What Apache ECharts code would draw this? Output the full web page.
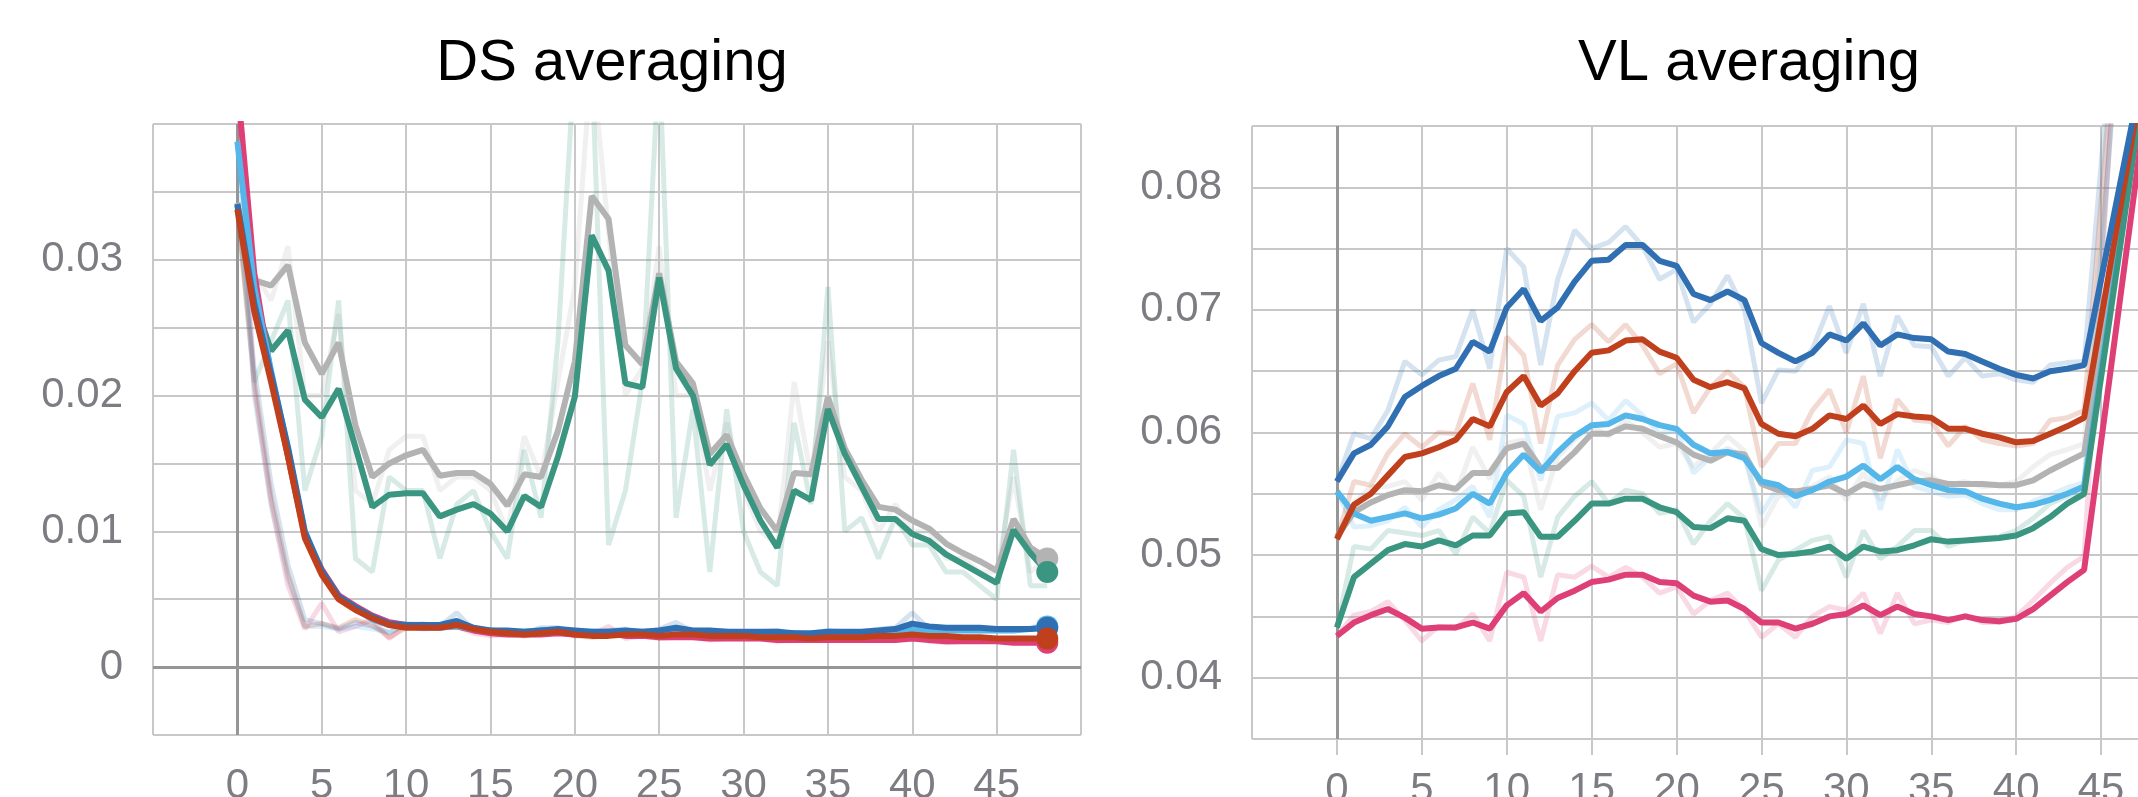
<!DOCTYPE html>
<html>
<head>
<meta charset="utf-8">
<script src="https://cdn.jsdelivr.net/npm/echarts@6/dist/echarts.min.js"></script>
<style>
  html, body { margin: 0; padding: 0; background: #fff; }
  #chart { width: 2138px; height: 797px; }
</style>
</head>
<body>
<div id="chart"></div>
<script>
  // DS averaging (left)
  const dsSteps = [0,1,2,3,4,5,6,7,8,9,10,11,12,13,14,15,16,17,18,19,20,21,22,23,24,25,26,27,28,29,30,31,32,33,34,35,36,37,38,39,40,41,42,43,44,45,46,47,48];
  const dsGrey = [.0342,.0285,.0281,.0296,.0239,.0216,.0239,.0178,.0140,.0150,.0156,.0160,.0141,.0143,.0143,.0135,.0119,.0142,.0140,.0174,.0225,.0347,.0330,.0237,.0223,.0290,.0225,.0209,.0157,.0171,.0142,.0117,.0100,.0143,.0142,.0199,.0161,.0138,.0118,.0116,.0108,.0102,.0091,.0084,.0078,.0071,.0109,.0088,.0080];
  const dsTeal = [.0340,.0270,.0233,.0248,.0197,.0184,.0205,.0162,.0118,.0127,.0128,.0128,.0111,.0116,.0120,.0113,.0100,.0126,.0118,.0155,.0199,.0318,.0292,.0209,.0206,.0287,.0220,.0200,.0149,.0164,.0134,.0108,.0088,.0130,.0123,.0190,.0157,.0133,.0109,.0109,.0098,.0093,.0083,.0076,.0069,.0062,.0101,.0084,.0070];
  const dsPink = [.0430,.0290,.0215,.0155,.0097,.0072,.0053,.0045,.0038,.0033,.0031,.0031,.0030,.0030,.0027,.0025,.0024,.0024,.0024,.0025,.0024,.0024,.0025,.0023,.0023,.0022,.0022,.0022,.0021,.0021,.0021,.0021,.0020,.0020,.0020,.0020,.0020,.0020,.0020,.0020,.0021,.0020,.0019,.0019,.0019,.0019,.0018,.0018,.0018];
  const dsLightBlue = [.0387,.0280,.0218,.0160,.0098,.0070,.0051,.0043,.0035,.0031,.0030,.0029,.0029,.0030,.0028,.0027,.0026,.0026,.0027,.0027,.0026,.0026,.0026,.0026,.0026,.0026,.0027,.0026,.0026,.0026,.0025,.0025,.0025,.0025,.0024,.0025,.0025,.0025,.0026,.0026,.0028,.0027,.0027,.0027,.0027,.0027,.0027,.0028,.0030];
  const dsBlue = [.0341,.0268,.0216,.0162,.0100,.0071,.0052,.0044,.0037,.0032,.0031,.0031,.0031,.0034,.0029,.0027,.0027,.0026,.0027,.0028,.0027,.0026,.0026,.0027,.0026,.0027,.0029,.0027,.0027,.0026,.0026,.0026,.0026,.0025,.0025,.0026,.0026,.0026,.0027,.0028,.0032,.0030,.0029,.0029,.0029,.0028,.0028,.0028,.0029];
  const dsRed = [.0337,.0262,.0210,.0155,.0095,.0068,.0050,.0042,.0036,.0031,.0029,.0029,.0029,.0031,.0028,.0026,.0025,.0024,.0025,.0026,.0024,.0023,.0023,.0024,.0024,.0023,.0024,.0024,.0023,.0023,.0023,.0022,.0022,.0022,.0021,.0022,.0022,.0022,.0023,.0023,.0024,.0023,.0023,.0022,.0022,.0021,.0021,.0021,.0021];
  // raw (unsmoothed) runs
  const dsGreyRaw = [.034,.029,.027,.031,.020,.020,.026,.013,.012,.016,.017,.017,.013,.014,.014,.013,.010,.017,.014,.021,.028,.045,.032,.020,.022,.031,.020,.020,.013,.018,.013,.010,.009,.021,.014,.024,.014,.013,.010,.012,.010,.010,.008,.008,.007,.007,.014,.007,.008];
  const dsTealRaw = [.034,.021,.024,.027,.013,.017,.027,.008,.007,.014,.013,.013,.008,.012,.013,.010,.008,.016,.011,.024,.045,.045,.009,.013,.021,.045,.011,.019,.007,.019,.010,.007,.006,.018,.012,.028,.010,.011,.008,.011,.009,.009,.007,.007,.006,.005,.016,.006,.006];
  const dsPinkRaw = [.0430,.0205,.0120,.0060,.0028,.0047,.0026,.0030,.0035,.0021,.0031,.0032,.0029,.0030,.0025,.0023,.0024,.0023,.0024,.0026,.0023,.0024,.0030,.0021,.0023,.0021,.0022,.0022,.0020,.0021,.0021,.0021,.0019,.0020,.0020,.0020,.0020,.0020,.0020,.0020,.0022,.0019,.0018,.0019,.0019,.0019,.0018,.0018,.0018];
  const dsLightBlueRaw = [.0387,.0200,.0120,.0065,.0030,.0030,.0028,.0030,.0028,.0026,.0030,.0028,.0029,.0032,.0027,.0026,.0025,.0026,.0028,.0027,.0025,.0026,.0026,.0027,.0025,.0026,.0029,.0025,.0026,.0026,.0024,.0025,.0026,.0024,.0023,.0026,.0025,.0025,.0027,.0026,.0031,.0026,.0027,.0027,.0027,.0027,.0027,.0029,.0032];
  const dsBlueRaw = [.0341,.0220,.0135,.0075,.0035,.0032,.0028,.0033,.0030,.0025,.0032,.0031,.0030,.0040,.0027,.0026,.0027,.0025,.0029,.0029,.0026,.0025,.0027,.0028,.0025,.0028,.0033,.0026,.0027,.0025,.0026,.0026,.0027,.0024,.0025,.0027,.0026,.0026,.0028,.0029,.0040,.0028,.0028,.0029,.0029,.0027,.0028,.0028,.0030];
  const dsRedRaw = [.0337,.0210,.0125,.0068,.0030,.0032,.0029,.0035,.0031,.0022,.0029,.0030,.0029,.0033,.0027,.0025,.0024,.0023,.0026,.0027,.0023,.0022,.0023,.0025,.0024,.0022,.0025,.0024,.0022,.0023,.0023,.0021,.0022,.0022,.0020,.0023,.0022,.0022,.0024,.0023,.0026,.0022,.0023,.0021,.0022,.0020,.0021,.0021,.0021];

  // VL averaging (right)
  const vlSteps = [0,1,2,3,4,5,6,7,8,9,10,11,12,13,14,15,16,17,18,19,20,21,22,23,24,25,26,27,28,29,30,31,32,33,34,35,36,37,38,39,40,41,42,43,44,48];
  const vlBlue = [.0560,.0583,.0590,.0605,.0629,.0638,.0646,.0652,.0674,.0666,.0702,.0717,.0691,.0702,.0723,.0740,.0741,.0753,.0753,.0740,.0736,.0713,.0708,.0715,.0708,.0673,.0665,.0658,.0665,.0680,.0675,.0689,.0671,.0680,.0677,.0676,.0666,.0664,.0658,.0652,.0647,.0644,.0650,.0652,.0655,.0934];
  const vlRed = [.0513,.0541,.0550,.0565,.0580,.0583,.0588,.0594,.0611,.0605,.0633,.0646,.0622,.0632,.0650,.0665,.0667,.0675,.0676,.0666,.0661,.0643,.0637,.0641,.0636,.0607,.0599,.0597,.0603,.0614,.0611,.0622,.0607,.0615,.0613,.0612,.0603,.0603,.0599,.0596,.0592,.0593,.0599,.0605,.0612,.0934];
  const vlLightBlue = [.0552,.0534,.0528,.0531,.0534,.0530,.0533,.0538,.0550,.0542,.0567,.0582,.0568,.0584,.0597,.0606,.0607,.0614,.0611,.0606,.0603,.0590,.0583,.0584,.0579,.0560,.0557,.0548,.0553,.0560,.0564,.0573,.0562,.0572,.0562,.0557,.0553,.0552,.0546,.0542,.0539,.0541,.0545,.0550,.0556,.0935];
  const vlGrey = [.0515,.0535,.0543,.0549,.0553,.0552,.0557,.0554,.0567,.0567,.0587,.0591,.0571,.0571,.0584,.0599,.0599,.0605,.0603,.0597,.0592,.0582,.0577,.0584,.0582,.0558,.0553,.0552,.0554,.0557,.0550,.0558,.0554,.0557,.0560,.0561,.0558,.0558,.0558,.0557,.0557,.0561,.0569,.0576,.0583,.0935];
  const vlTeal = [.0441,.0482,.0493,.0504,.0509,.0507,.0512,.0508,.0516,.0516,.0534,.0535,.0515,.0515,.0528,.0542,.0542,.0546,.0546,.0539,.0535,.0523,.0522,.0530,.0528,.0505,.0500,.0501,.0503,.0507,.0497,.0507,.0503,.0504,.0508,.0513,.0511,.0512,.0513,.0514,.0516,.0522,.0531,.0542,.0550,.0930];
  const vlPink = [.0434,.0445,.0451,.0456,.0449,.0440,.0441,.0441,.0445,.0440,.0459,.0469,.0454,.0465,.0471,.0478,.0480,.0484,.0484,.0478,.0477,.0467,.0462,.0463,.0456,.0445,.0445,.0440,.0444,.0450,.0452,.0459,.0451,.0458,.0452,.0450,.0447,.0450,.0447,.0446,.0448,.0456,.0467,.0478,.0488,.0905];
  const vlBlueRaw = [.0560,.0599,.0595,.0618,.0658,.0647,.0659,.0662,.0700,.0652,.0750,.0735,.0655,.0725,.0765,.0750,.0755,.0768,.0752,.0725,.0733,.0690,.0705,.0728,.0700,.0624,.0651,.0650,.0668,.0703,.0665,.0705,.0646,.0695,.0671,.0670,.0646,.0661,.0646,.0648,.0643,.0641,.0655,.0657,.0658,.1300];
  const vlRedRaw = [.0513,.0560,.0557,.0583,.0599,.0588,.0600,.0599,.0640,.0594,.0678,.0663,.0591,.0655,.0676,.0688,.0674,.0688,.0671,.0648,.0656,.0616,.0637,.0650,.0637,.0572,.0591,.0591,.0618,.0635,.0600,.0646,.0579,.0627,.0610,.0609,.0589,.0605,.0594,.0591,.0589,.0591,.0610,.0612,.0618,.1300];
  const vlLightBlueRaw = [.0552,.0523,.0524,.0528,.0539,.0523,.0537,.0545,.0556,.0531,.0614,.0607,.0561,.0613,.0616,.0624,.0610,.0626,.0614,.0599,.0602,.0567,.0580,.0587,.0580,.0534,.0556,.0539,.0569,.0572,.0594,.0591,.0537,.0586,.0556,.0552,.0548,.0549,.0542,.0537,.0537,.0544,.0549,.0555,.0559,.1300];
  const vlGreyRaw = [.0515,.0542,.0556,.0556,.0560,.0545,.0567,.0550,.0588,.0562,.0591,.0594,.0537,.0580,.0594,.0605,.0597,.0610,.0600,.0588,.0591,.0572,.0583,.0597,.0585,.0523,.0548,.0550,.0556,.0564,.0545,.0567,.0545,.0561,.0569,.0564,.0557,.0560,.0556,.0557,.0560,.0572,.0582,.0586,.0591,.1300];
  const vlTealRaw = [.0441,.0507,.0505,.0520,.0518,.0516,.0520,.0501,.0531,.0518,.0561,.0548,.0482,.0531,.0548,.0560,.0542,.0553,.0550,.0534,.0537,.0509,.0528,.0542,.0530,.0471,.0496,.0504,.0512,.0515,.0482,.0520,.0497,.0507,.0520,.0520,.0507,.0512,.0514,.0515,.0520,.0530,.0542,.0548,.0553,.1300];
  const vlPinkRaw = [.0434,.0451,.0454,.0462,.0447,.0430,.0442,.0440,.0452,.0430,.0486,.0482,.0430,.0484,.0482,.0491,.0482,.0490,.0482,.0469,.0474,.0452,.0463,.0469,.0455,.0433,.0444,.0433,.0450,.0458,.0455,.0469,.0436,.0469,.0444,.0447,.0445,.0451,.0445,.0445,.0450,.0463,.0477,.0490,.0499,.1400];

  const colors = {
    grey: '#b3b3b3',
    teal: '#3a9581',
    pink: '#de3f77',
    lightBlue: '#55b6ea',
    blue: '#2f6fb2',
    red: '#c0401e',
  };

  const labelStyle = {
    fontFamily: 'Liberation Sans',
    fontSize: 42,
    color: '#7c7c82',
  };
  const gridLine = { color: '#c8c8c8', width: 2 };

  const pairs = (xs, ys) => xs.map((x, i) => [x, ys[i]]);

  const line = (xs, ys, color, idx, raw) => ({
    type: 'line',
    xAxisIndex: idx,
    yAxisIndex: idx,
    data: pairs(xs, ys),
    showSymbol: false,
    silent: true,
    z: raw ? 2 : 3,
    lineStyle: { color: color, width: raw ? 5 : 6, opacity: raw ? 0.2 : 1 },
  });

  const endDot = (xs, ys, color) => ({
    type: 'scatter',
    xAxisIndex: 0,
    yAxisIndex: 0,
    data: [[xs[xs.length - 1], ys[ys.length - 1]]],
    symbolSize: 22,
    silent: true,
    z: 4,
    itemStyle: { color: color, opacity: 1 },
  });

  const yLabel = (max) => (v) => {
    const k = Math.round(v * 1000);
    if (k % 10 !== 0 || v >= max - 1e-9) return '';
    return k === 0 ? '0' : v.toFixed(2);
  };

  const xAxis = (idx) => ({
    type: 'value',
    gridIndex: idx,
    min: -5,
    max: 50,
    interval: 5,
    axisLine: { show: false },
    axisTick: { show: true, length: 16, lineStyle: gridLine },
    splitLine: { show: true, lineStyle: gridLine },
    axisLabel: Object.assign({ margin: 30, showMinLabel: false, showMaxLabel: false }, labelStyle),
  });

  const yAxis = (idx, min, max) => ({
    type: 'value',
    gridIndex: idx,
    min: min,
    max: max,
    interval: 0.005,
    axisLine: { show: false },
    axisTick: { show: true, length: 15, lineStyle: gridLine },
    splitLine: { show: true, lineStyle: gridLine },
    axisLabel: Object.assign({ margin: 30, formatter: yLabel(max) }, labelStyle),
  });

  const zeroLines = (idx, data) => ({
    type: 'line',
    xAxisIndex: idx,
    yAxisIndex: idx,
    data: [],
    silent: true,
    z: 1,
    markLine: {
      silent: true,
      z: 1,
      symbol: ['none', 'none'],
      label: { show: false },
      lineStyle: { color: '#969696', width: 3, type: 'solid' },
      data: data,
    },
  });

  const series = [
    zeroLines(0, [{ xAxis: 0 }, { yAxis: 0 }]),
    zeroLines(1, [{ xAxis: 0 }]),
    // left raw
    line(dsSteps, dsGreyRaw, colors.grey, 0, true),
    line(dsSteps, dsTealRaw, colors.teal, 0, true),
    line(dsSteps, dsPinkRaw, colors.pink, 0, true),
    line(dsSteps, dsLightBlueRaw, colors.lightBlue, 0, true),
    line(dsSteps, dsBlueRaw, colors.blue, 0, true),
    line(dsSteps, dsRedRaw, colors.red, 0, true),
    // left smoothed
    line(dsSteps, dsGrey, colors.grey, 0),
    line(dsSteps, dsTeal, colors.teal, 0),
    line(dsSteps, dsPink, colors.pink, 0),
    line(dsSteps, dsLightBlue, colors.lightBlue, 0),
    line(dsSteps, dsBlue, colors.blue, 0),
    line(dsSteps, dsRed, colors.red, 0),
    endDot(dsSteps, dsGrey, colors.grey),
    endDot(dsSteps, dsTeal, colors.teal),
    endDot(dsSteps, dsPink, colors.pink),
    endDot(dsSteps, dsLightBlue, colors.lightBlue),
    endDot(dsSteps, dsBlue, colors.blue),
    endDot(dsSteps, dsRed, colors.red),
    // right raw
    line(vlSteps, vlGreyRaw, colors.grey, 1, true),
    line(vlSteps, vlLightBlueRaw, colors.lightBlue, 1, true),
    line(vlSteps, vlTealRaw, colors.teal, 1, true),
    line(vlSteps, vlRedRaw, colors.red, 1, true),
    line(vlSteps, vlBlueRaw, colors.blue, 1, true),
    line(vlSteps, vlPinkRaw, colors.pink, 1, true),
    // right smoothed
    line(vlSteps, vlGrey, colors.grey, 1),
    line(vlSteps, vlLightBlue, colors.lightBlue, 1),
    line(vlSteps, vlTeal, colors.teal, 1),
    line(vlSteps, vlRed, colors.red, 1),
    line(vlSteps, vlBlue, colors.blue, 1),
    line(vlSteps, vlPink, colors.pink, 1),
  ];

  const titleStyle = { fontFamily: 'Liberation Sans', fontSize: 58, fontWeight: 'normal', color: '#000' };

  const chart = echarts.init(document.getElementById('chart'), null, { renderer: 'canvas' });
  chart.setOption({
    animation: false,
    backgroundColor: '#fff',
    title: [
      { text: 'DS averaging', left: 607, top: 30, textAlign: 'center', textStyle: titleStyle },
      { text: 'VL averaging', left: 1744, top: 30, textAlign: 'center', textStyle: titleStyle },
    ],
    grid: [
      { left: 153, right: 1057, top: 124, bottom: 62, outerBoundsMode: 'none', containLabel: false },
      { left: 1252, right: -48, top: 126, bottom: 58, outerBoundsMode: 'none', containLabel: false },
    ],
    xAxis: [xAxis(0), xAxis(1)],
    yAxis: [yAxis(0, -0.005, 0.04), yAxis(1, 0.035, 0.085)],
    series: series,
  });
</script>
</body>
</html>
